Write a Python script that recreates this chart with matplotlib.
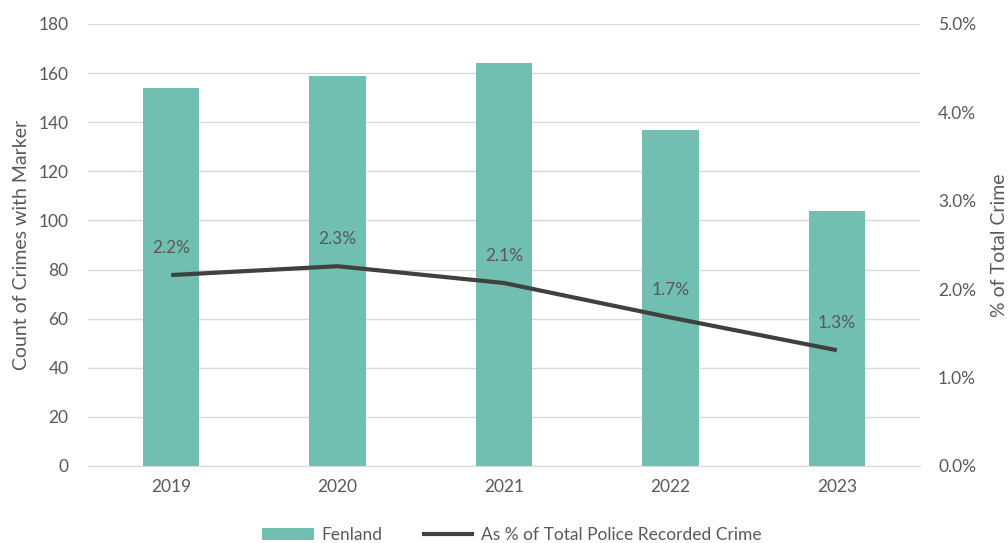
import matplotlib
matplotlib.use("Agg")
import matplotlib.pyplot as plt
from matplotlib.ticker import FuncFormatter, MultipleLocator

years = ["2019", "2020", "2021", "2022", "2023"]
crime_counts = [154, 159, 164, 137, 104]
pct_of_total = [2.16, 2.26, 2.07, 1.68, 1.31]

bar_color = "#70BFB0"
line_color = "#404040"
text_color = "#595959"
grid_color = "#D9D9D9"

plt.rcParams["font.family"] = ["Lato", "DejaVu Sans"]

fig = plt.figure(figsize=(10.08, 5.43), dpi=100)
ax = fig.add_axes([88 / 1008, 1 - 466 / 543, 832 / 1008, 442 / 543])
ax2 = ax.twinx()

x = list(range(len(years)))
bars = ax.bar(x, crime_counts, width=0.34, color=bar_color, zorder=2, label="Fenland")
line, = ax2.plot(x, pct_of_total, color=line_color, linewidth=3, zorder=3,
                 label="As % of Total Police Recorded Crime", solid_capstyle="butt")

for xi, v in zip(x, pct_of_total):
    ax2.annotate(f"{v:.1f}%", (xi, v), xytext=(0, 14), textcoords="offset points",
                 ha="center", va="bottom", fontsize=12.5, color=text_color)

ax.set_xlim(-0.5, 4.5)
ax.set_ylim(0, 180)
ax.yaxis.set_major_locator(MultipleLocator(20))
ax2.set_ylim(0, 5)
ax2.yaxis.set_major_locator(MultipleLocator(1))
ax2.yaxis.set_major_formatter(FuncFormatter(lambda v, p: f"{v:.1f}%"))

ax.set_xticks(x)
ax.set_xticklabels(years)
ax.grid(axis="y", color=grid_color, linewidth=1, zorder=0)
ax.set_axisbelow(True)

for a in (ax, ax2):
    for s in a.spines.values():
        s.set_visible(False)
    a.tick_params(length=0, labelsize=12.5, colors=text_color)
ax.spines["bottom"].set_visible(True)
ax.spines["bottom"].set_color(grid_color)
ax.tick_params(axis="y", pad=14)
ax.tick_params(axis="x", pad=9)
ax2.tick_params(axis="y", pad=13)

ax.set_ylabel("Count of Crimes with Marker", fontsize=14, color=text_color)
ax.yaxis.set_label_coords(-58 / 832, 0.5)
ax2.set_ylabel("% of Total Crime", fontsize=14, color=text_color, rotation=90)
ax2.yaxis.set_label_coords(1 + 71 / 832, 0.5)

fig.legend(handles=[bars, line], loc="center", bbox_to_anchor=(512 / 1008, 1 - 535 / 543),
           ncol=2, frameon=False, fontsize=12.5, labelcolor=text_color,
           handlelength=3.0, columnspacing=2.3, handletextpad=0.4)

fig.savefig("out.png", dpi=100)
